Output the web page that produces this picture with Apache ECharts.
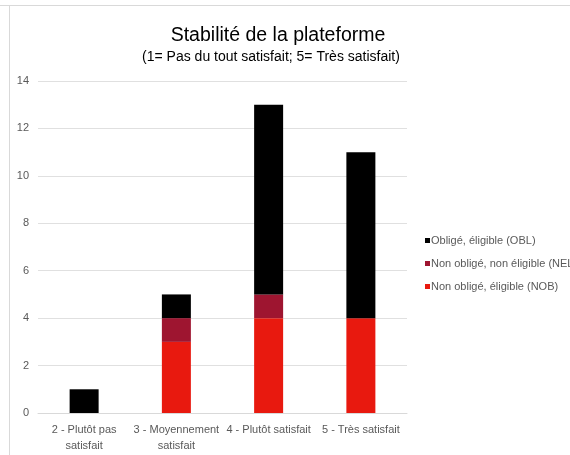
<!DOCTYPE html>
<html>
<head>
<meta charset="utf-8">
<script src="https://cdn.jsdelivr.net/npm/echarts@6/dist/echarts.min.js"></script>
<style>
  html, body { margin: 0; padding: 0; background: #fff; }
  #chart { width: 570px; height: 455px; }
</style>
</head>
<body>
<div id="chart"></div>
<script>
const categories = ['2 - Plutôt pas\nsatisfait', '3 - Moyennement\nsatisfait', '4 - Plutôt satisfait', '5 - Très satisfait'];
const nobValues = [0, 3, 4, 4];
const nelValues = [0, 1, 1, 0];
const oblValues = [1, 1, 8, 7];
const yTicks = [0, 2, 4, 6, 8, 10, 12, 14];

const font = '"Liberation Sans", Arial, sans-serif';

const option = {
  backgroundColor: '#fff',
  textStyle: { fontFamily: font },
  title: [
    {
      text: 'Stabilité de la plateforme',
      left: 273,
      textAlign: 'center',
      top: 21,
      textStyle: { fontFamily: font, fontSize: 19.5, fontWeight: 'normal', color: '#000' },
    },
    {
      text: '(1= Pas du tout satisfait; 5= Très satisfait)',
      left: 266,
      textAlign: 'center',
      top: 45,
      textStyle: { fontFamily: font, fontSize: 14, fontWeight: 'normal', color: '#000' },
    },
  ],
  legend: {
    orient: 'vertical',
    left: 420,
    top: 230,
    itemWidth: 5,
    itemHeight: 5,
    itemGap: 12,
    icon: 'rect',
    textStyle: { fontFamily: font, fontSize: 11, color: '#595959', padding: [0, 0, 0, -4] },
    data: ['Obligé, éligible (OBL)', 'Non obligé, non éligible (NEL)', 'Non obligé, éligible (NOB)'],
  },
  grid: { left: 38, right: 163, top: 81, bottom: 42 },
  xAxis: {
    type: 'category',
    data: categories,
    axisLine: { lineStyle: { color: '#d9d9d9' } },
    axisTick: { show: false },
    axisLabel: { interval: 0, color: '#595959', fontSize: 11, lineHeight: 16, margin: 9 },
  },
  yAxis: {
    type: 'value',
    min: yTicks[0],
    max: yTicks[yTicks.length - 1],
    interval: 2,
    axisLine: { show: false },
    axisTick: { show: false },
    axisLabel: { color: '#595959', fontSize: 11, margin: 9 },
    splitLine: { lineStyle: { color: '#e0e0e0' } },
  },
  graphic: [
    { type: 'line', shape: { x1: 0, y1: 5.5, x2: 570, y2: 5.5 }, style: { stroke: '#d9d9d9', lineWidth: 1 } },
    { type: 'line', shape: { x1: 9.5, y1: 5, x2: 9.5, y2: 455 }, style: { stroke: '#d9d9d9', lineWidth: 1 } },
  ],
  series: [
    {
      name: 'Non obligé, éligible (NOB)',
      type: 'bar',
      stack: 'total',
      barWidth: 29,
      data: nobValues,
      itemStyle: { color: '#e8190f' },
    },
    {
      name: 'Non obligé, non éligible (NEL)',
      type: 'bar',
      stack: 'total',
      barWidth: 29,
      data: nelValues,
      itemStyle: { color: '#9e1530' },
    },
    {
      name: 'Obligé, éligible (OBL)',
      type: 'bar',
      stack: 'total',
      barWidth: 29,
      data: oblValues,
      itemStyle: { color: '#000000' },
    },
  ],
};

const myChart = echarts.init(document.getElementById('chart'));
myChart.setOption(option);
</script>
</body>
</html>
